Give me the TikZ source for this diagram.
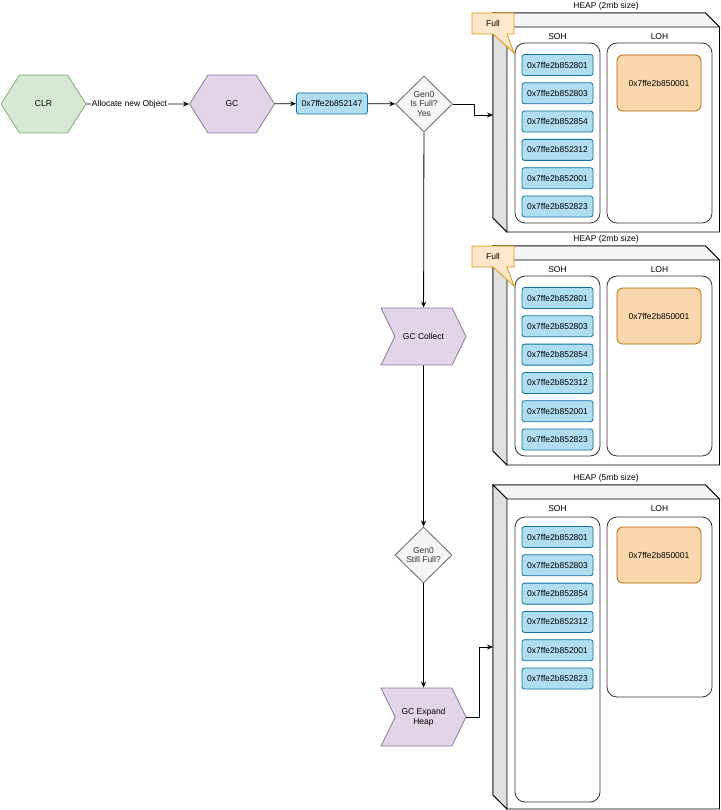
\documentclass[tikz,border=0pt]{standalone}
\usepackage{fontspec}
\setmainfont{Liberation Sans}
\usetikzlibrary{arrows.meta,positioning,shapes.geometric,shapes.symbols,calc}
\definecolor{clrfill}{HTML}{D5E8D4}
\definecolor{clrline}{HTML}{82B366}
\definecolor{gcfill}{HTML}{E1D5E7}
\definecolor{gcline}{HTML}{9673A6}
\definecolor{objfill}{HTML}{B1DDF0}
\definecolor{objline}{HTML}{10739E}
\definecolor{bigfill}{HTML}{FAD7AC}
\definecolor{bigline}{HTML}{B46504}
\definecolor{notefill}{HTML}{FFE6CC}
\definecolor{noteline}{HTML}{D79B00}
\definecolor{askfill}{HTML}{F5F5F5}
\definecolor{askline}{HTML}{666666}
\definecolor{asktext}{HTML}{333333}

\begin{document}
\begin{tikzpicture}[
  x=1pt, y=-1pt,
  font=\fontsize{8.5}{10}\selectfont,
  line width=0.8pt,
  hexa/.style={signal, signal to=west and east, signal pointer angle=115,
               minimum width=85pt, minimum height=58pt, inner sep=0pt},
  stepnode/.style={signal, signal from=west, signal to=east, signal pointer angle=128,
               draw=gcline, fill=gcfill, minimum width=85pt, minimum height=57pt,
               inner sep=0pt, align=center},
  obj/.style={draw=objline, fill=objfill, rounded corners=2.5pt,
              minimum width=71pt, minimum height=21pt, inner sep=0pt},
  bigobj/.style={draw=bigline, fill=bigfill, rounded corners=6pt,
                 minimum width=84pt, minimum height=56pt, inner sep=0pt},
  ask/.style={diamond, draw=askline, fill=askfill, text=asktext, align=center,
              minimum width=57pt, minimum height=56pt, inner sep=0pt,
              font=\fontsize{8.5}{9.5}\selectfont},
  region/.style={draw=black!80, rounded corners=10pt},
  face/.style={draw=black},
  note/.style={draw=noteline, fill=notefill},
  arr/.style={-{Stealth[length=6pt, width=5pt]}, black},
]
\useasboundingbox (0,0) rectangle (720,810);

% flow on the left
\node[hexa, draw=clrline, fill=clrfill] (clr) at (43.5,104) {CLR};
\node[hexa, draw=gcline, fill=gcfill] (gc) at (232,104) {GC};
\node[obj] (newobj) at (332,103.5) {0x7ffe2b852147};
\node[ask] (ask1) at (424,104) {Gen0\\Is Full?\\Yes};
\node[stepnode] (collect) at (423.5,336.5) {GC Collect};
\node[ask] (ask2) at (423.5,555) {Gen0\\Still Full?};
\node[stepnode, minimum height=58pt] (grow) at (423.5,717) {GC Expand\\Heap};

% heaps
\foreach \top/\bot in {13/232, 246/465, 485/809} {
  \filldraw[face, fill=white] (493,\top) -- (705.5,\top) -- (719.5,\top+14) -- (719.5,\bot)
    -- (507,\bot) -- (493,\bot-14) -- cycle;
  \filldraw[face, fill=black!4] (493,\top) -- (705.5,\top) -- (719.5,\top+14) -- (507,\top+14) -- cycle;
  \filldraw[face, fill=black!12] (493,\top) -- (507,\top+14) -- (507,\bot) -- (493,\bot-14) -- cycle;
}
\coordinate (inA) at (493,115);
\coordinate (inC) at (493,647);

\node (capA) at (606,6) {HEAP (2mb size)};
\node (capB) at (606,239) {HEAP (2mb size)};
\node (capC) at (606,478) {HEAP (5mb size)};

% full callouts
\foreach \dy/\n in {0/A, 233/B} {
  \filldraw[note] (472,13+\dy) -- (514,13+\dy) -- (514,34+\dy) -- (507,34+\dy)
    -- (514,53+\dy) -- (493,34+\dy) -- (472,34+\dy) -- cycle;
  \node (full\n) at (493,23.5+\dy) {Full};
}

% soh / loh regions
\draw[region] (515,43) rectangle (600,223);
\draw[region] (607,43) rectangle (712,223);
\draw[region] (515,276) rectangle (600,456);
\draw[region] (607,276) rectangle (712,456);
\draw[region] (515,517) rectangle (600,802);
\draw[region] (607,517) rectangle (712,697);

\foreach \dy/\n in {0/a, 233/b, 472/c} {
  \node (soh\n) at (557.5,37+\dy) {SOH};
  \node (loh\n) at (659.5,37+\dy) {LOH};
  \foreach \adr [count=\i] in {852801,852803,852854,852312,852001,852823}
    \node[obj] (\n\i) at (557.5,65+28.3*\i-28.3+\dy) {0x7ffe2b\adr};
  \node[bigobj] (big\n) at (659,83+\dy) {0x7ffe2b850001};
}

% connectors
\draw[arr] (clr) -- node[fill=white, inner sep=1pt, pos=0.42] {Allocate new Object} (gc);
\draw[arr] (gc) -- (newobj);
\draw[arr] (newobj) -- (ask1);
\draw[arr] (ask1.east) -- ++(21,0) |- (inA);
\draw[arr] (ask1) -- (collect);
\draw[arr] (collect) -- (ask2);
\draw[arr] (ask2) -- (grow);
\draw[arr] (grow.east) -- ++(13,0) |- (inC);
\end{tikzpicture}
\end{document}
